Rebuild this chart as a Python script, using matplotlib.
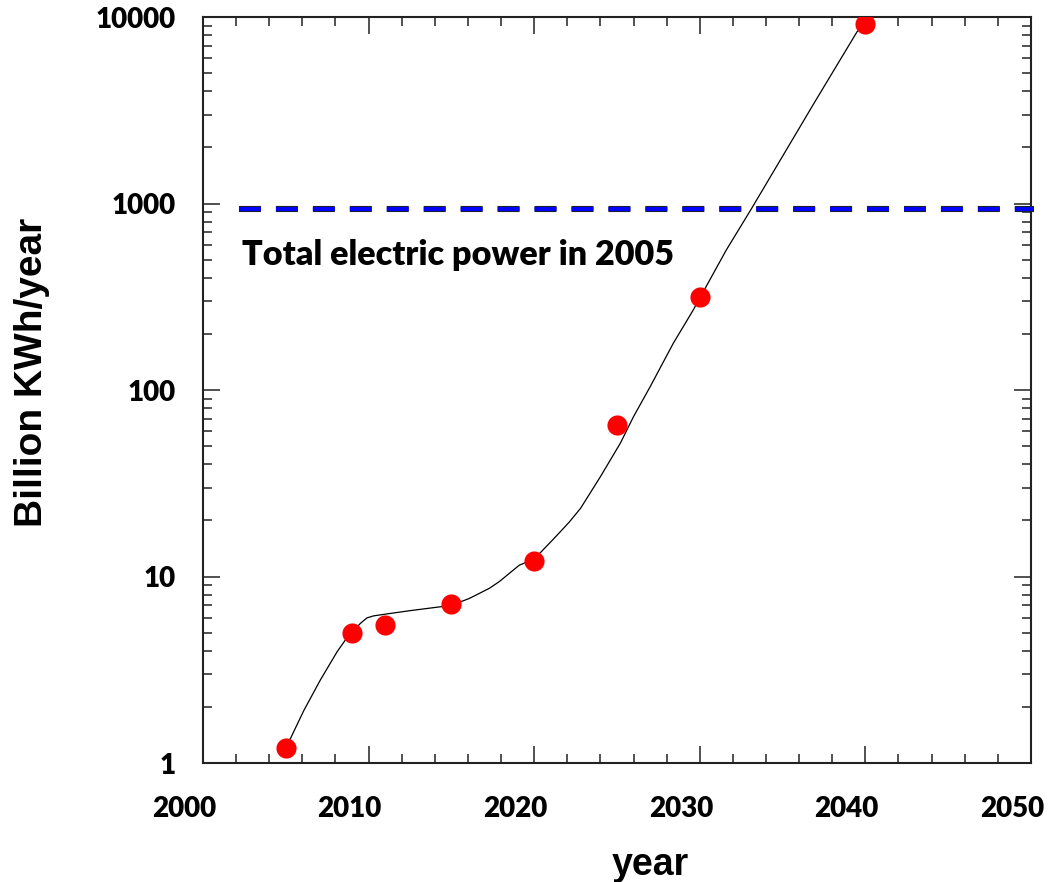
import numpy as np
import matplotlib.pyplot as plt
import matplotlib.ticker as mticker
import matplotlib.transforms as mtransforms
import matplotlib.patheffects as pe

# measured points
years = [2005, 2009, 2011, 2015, 2020, 2025, 2030, 2040]
values = [1.2, 5.0, 5.5, 7.1, 12.1, 65, 315, 9200]

# smooth fit curve
fit_years = [2005.0, 2006.1, 2007.1, 2008.1, 2008.6, 2009.0, 2009.5, 2009.9,
             2010.3, 2011.1, 2012.5, 2014.1, 2015.0, 2016.1, 2017.3, 2017.9,
             2019.1, 2020.0, 2021.2, 2022.1, 2022.8, 2024.0, 2025.2, 2026.0,
             2027.0, 2028.4, 2029.6, 2030.0, 2031.6, 2033.1, 2036.9, 2039.5,
             2040.0]
fit_values = [1.2, 1.92, 2.8, 3.95, 4.57, 5.0, 5.6, 6.0,
              6.15, 6.3, 6.56, 6.84, 7.0, 7.64, 8.65, 9.4,
              11.5, 12.4, 16.0, 19.5, 23.2, 34.3, 51.8, 72,
              104, 178, 268, 311, 563, 931, 3450, 8340,
              9200]

total_2005 = 930
line_start = 2002.2
line_end = 2050.2

tick_font = 'Lato'
label_font = 'Liberation Sans'

fig = plt.figure(figsize=(10.49, 8.82), dpi=100)
ax = fig.add_axes([0.1935, 0.1349, 0.7893, 0.8458])

ax.plot(fit_years, fit_values, color='black', lw=0.9, zorder=2)
ax.plot(years, values, 'o', color='#ff0000', ms=14.5, mec='none', zorder=3)

ax.plot([line_start, line_end], [total_2005, total_2005], color='#0000ff',
        lw=3.0, dashes=(15.8 / 3.0, 10.8 / 3.0), solid_capstyle='butt',
        clip_on=False, zorder=4,
        path_effects=[pe.Stroke(linewidth=4.4, foreground='#222222'), pe.Normal()])

ax.text(2002.35, 470, 'Total electric power in 2005', fontsize=24.6,
        fontweight='heavy', family=tick_font, va='baseline', ha='left')

ax.set_yscale('log')
ax.set_xlim(2000, 2050)
ax.set_ylim(1, 10000)

ax.xaxis.set_major_locator(mticker.MultipleLocator(10))
ax.xaxis.set_minor_locator(mticker.MultipleLocator(2))
ax.yaxis.set_major_locator(mticker.LogLocator(base=10))
ax.yaxis.set_minor_locator(mticker.LogLocator(base=10, subs=np.arange(2, 10)))
ax.yaxis.set_major_formatter(mticker.FuncFormatter(lambda v, p: '%d' % v))
ax.yaxis.set_minor_formatter(mticker.NullFormatter())

ax.tick_params(which='both', direction='in', top=True, right=True,
               color='#333333', width=1.2)
ax.tick_params(which='major', length=12)
ax.tick_params(which='minor', length=6.5)
ax.tick_params(axis='x', which='major', pad=24)
ax.tick_params(axis='y', which='major', pad=20)

for sp in ax.spines.values():
    sp.set_linewidth(1.5)
    sp.set_color('#222222')

for lab in ax.get_xticklabels() + ax.get_yticklabels():
    lab.set_fontfamily(tick_font)
    lab.set_fontweight('heavy')
    lab.set_fontsize(20)

# x tick labels sit a bit to the left of their ticks
shift = mtransforms.ScaledTranslation(-0.19, 0, fig.dpi_scale_trans)
for lab in ax.get_xticklabels():
    lab.set_transform(lab.get_transform() + shift)

ax.set_xlabel('year', fontsize=27, fontweight='bold', family=label_font)
ax.set_ylabel('Billion KWh/year', fontsize=28, fontweight='bold', family=label_font)
ax.xaxis.set_label_coords(0.54, -0.112)
ax.yaxis.set_label_coords(-0.185, 0.524)

fig.savefig('out.png', dpi=100)
